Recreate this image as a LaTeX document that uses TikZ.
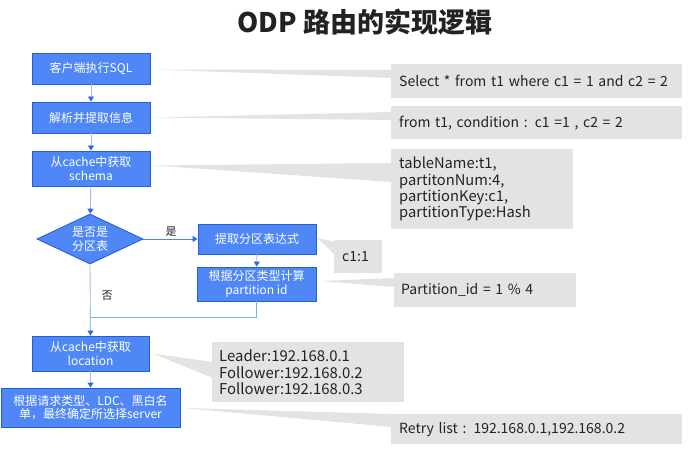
\documentclass[tikz,border=0pt]{standalone}
\usepackage{fontspec}
\setmainfont{Noto Sans CJK SC}
\usetikzlibrary{arrows.meta,shapes.geometric,calc}
\pgfdeclarelayer{bg}
\pgfsetlayers{bg,main}
\definecolor{boxfill}{HTML}{4F88F6}
\definecolor{boxline}{HTML}{2360D6}
\definecolor{callgray}{HTML}{E4E3E3}
\definecolor{conn}{HTML}{A3BCE8}
\definecolor{connblue}{HTML}{4F84EC}
\definecolor{tipblue}{HTML}{2B6AE6}
\definecolor{txt}{HTML}{222222}
\begin{document}
\begin{tikzpicture}[x=1pt,y=-1pt,
 bluebox/.style={draw=boxline, fill=boxfill, line width=0.9pt, text=white, font=\fontsize{12}{13.5}\selectfont, align=center, inner sep=0pt},
 callout/.style={fill=callgray, text=txt, font=\fontsize{14}{16.3}\selectfont, align=left, inner ysep=0pt, inner xsep=8pt, anchor=north west},
 flow/.style={draw=conn, line width=0.9pt, -{Triangle[width=6pt,length=5pt,color=tipblue,fill=tipblue]}},
 lbl/.style={text=txt, font=\fontsize{11}{12}\selectfont}]
\useasboundingbox (0,0) rectangle (690,457);

\node[text=txt, font=\fontsize{27}{29}\selectfont\bfseries] (title) at (365,22) {ODP 路由的实现逻辑};

% blue boxes
\node[bluebox, minimum width=118pt, minimum height=31pt] (b1) at (91,68.5) {客户端执行SQL};
\node[bluebox, minimum width=118pt, minimum height=31pt] (b2) at (91,117.5) {解析并提取信息};
\node[bluebox, minimum width=118pt, minimum height=35pt] (b3) at (91,168.5) {从cache中获取\\schema};
\node[bluebox, shape=diamond, aspect=2, minimum width=106pt, minimum height=50pt] (dia) at (90,239) {是否是\\分区表};
\node[bluebox, minimum width=118pt, minimum height=30pt] (p1) at (257,239) {提取分区表达式};
\node[bluebox, minimum width=119pt, minimum height=34pt] (p2) at (256.5,284) {根据分区类型计算\\partition id};
\node[bluebox, minimum width=117pt, minimum height=35pt] (loc) at (90.5,353.5) {从cache中获取\\location};
\node[bluebox, minimum width=179pt, minimum height=39pt] (fin) at (90.5,407.5) {根据请求类型、LDC、黑白名\\单，最终确定所选择server};

% callouts
\node[callout, minimum width=291pt, minimum height=34pt, text width=275pt] (c1) at (391,64) {Select * from t1 where c1 = 1 and c2 = 2};
\node[callout, minimum width=291pt, minimum height=33pt, text width=275pt] (c2) at (391,106) {from t1, condition : c1 =1 , c2 = 2};
\node[callout, minimum width=182pt, minimum height=80pt, text width=166pt, font=\fontsize{14.7}{16.3}\selectfont] (c3) at (391,149) {tableName:t1,\\partitonNum:4,\\partitionKey:c1,\\partitionType:Hash};
\node[callout, minimum width=48pt, minimum height=33pt, text width=32pt] (c4) at (334,240) {c1:1};
\node[callout, minimum width=182pt, minimum height=34pt, text width=168pt, inner xsep=7pt] (c5) at (394,273) {Partition\_id = 1 \% 4};
\node[callout, minimum width=192pt, minimum height=60pt, text width=178pt, inner xsep=7pt, font=\fontsize{14.9}{16.5}\selectfont] (c6) at (212,342) {Leader:192.168.0.1\\Follower:192.168.0.2\\Follower:192.168.0.3};
\node[callout, minimum width=291pt, minimum height=30pt, text width=275pt] (c7) at (391,414) {Retry list : 192.168.0.1,192.168.0.2};

% callout wedges
\begin{pgfonlayer}{bg}
\fill[white] (0,0) rectangle (690,457);
\fill[callgray] ($(b1.east)+(3,1)$) -- ($(c1.north west)+(1,6)$) -- ($(c1.north west)+(1,14)$) -- cycle;
\fill[callgray] ($(b2.east)+(3,0)$) -- ($(c2.north west)+(1,6)$) -- ($(c2.north west)+(1,14)$) -- cycle;
\fill[callgray] ($(b3.east)+(3,-3)$) -- ($(c3.north west)+(1,14)$) -- ($(c3.north west)+(1,33)$) -- cycle;
\fill[callgray] ($(p1.east)+(1,-1)$) -- ($(c4.north west)+(1,2)$) -- ($(c4.north west)+(1,15)$) -- cycle;
\fill[callgray] ($(p2.east)+(4,-3)$) -- ($(c5.north west)+(1,5)$) -- ($(c5.north west)+(1,14)$) -- cycle;
\fill[callgray] ($(loc.east)+(3,0)$) -- ($(c6.north west)+(1,20)$) -- ($(c6.north west)+(1,36)$) -- cycle;
\fill[callgray] ($(fin.east)+(2,0.5)$) -- ($(c7.north west)+(1,0)$) -- ($(c7.north west)+(1,13)$) -- cycle;
\end{pgfonlayer}

% connectors
\draw[flow] (b1) -- (b2);
\draw[flow] (b2) -- (b3);
\draw[flow] (b3) -- (dia);
\draw[flow, draw=connblue] (dia.east) -- (p1.west);
\draw[flow] (p1) -- (p2);
\draw[flow] (dia.south) -- (loc.north);
\coordinate (merge) at ($(dia.south)+(0,53)$);
\draw[draw=connblue!70, line width=0.9pt] (p2.south) |- (merge);
\draw[flow] (loc) -- (fin);

\node[lbl] (yes) at (171,232) {是};
\node[lbl] (no) at (107,296) {否};
\end{tikzpicture}
\end{document}
